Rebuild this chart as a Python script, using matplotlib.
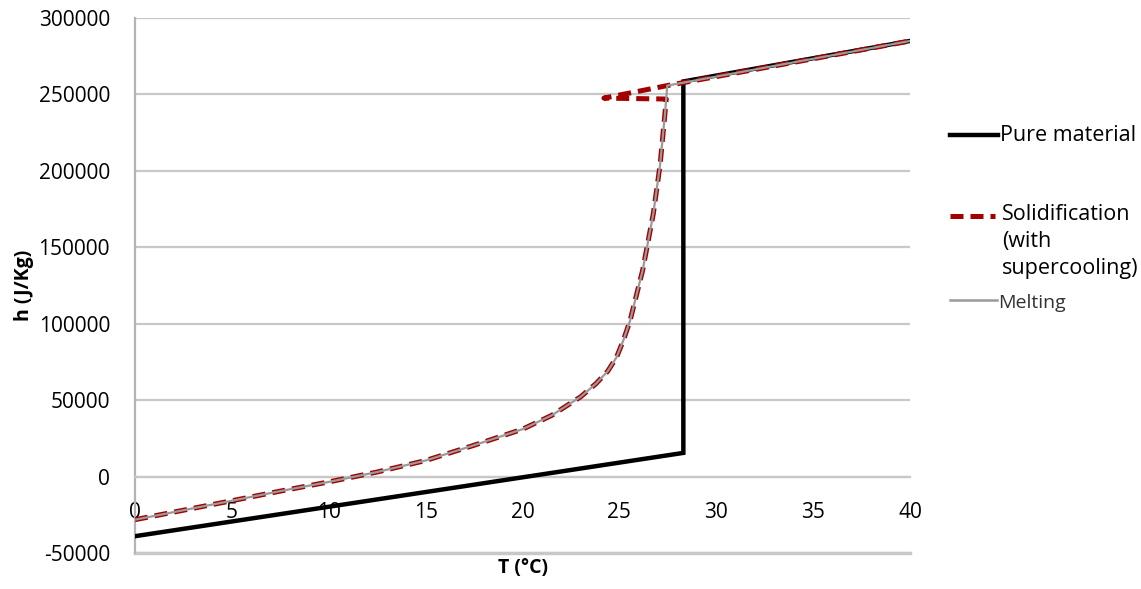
import numpy as np
import matplotlib.pyplot as plt
from matplotlib.lines import Line2D

plt.rcParams['font.family'] = ['Open Sans', 'DejaVu Sans']
plt.rcParams['axes.unicode_minus'] = False

# pure material: linear solid, isothermal jump, linear liquid
pure_T = [0, 28.3, 28.3, 40]
pure_h = [-39000, 15500, 258500, 285000]

# melting curve (mushy zone)
curve_T = [0, 2.5, 5, 7.5, 10, 12.5, 15, 17.5, 20, 21.5, 23, 23.8, 24.4, 24.85,
           25.2, 25.55, 26.2, 26.75, 27.1, 27.35, 27.47]
curve_h = [-28200, -22000, -15800, -9500, -3500, 3000, 10500, 20500, 31000,
           40000, 52200, 60900, 69000, 78000, 89000, 102000, 135000, 172000,
           204000, 237000, 255800]
liq_T = [40]
liq_h = [285000]

# solidification with supercooling
sol_T = curve_T[:-2] + [27.42, 24.2, 27.47] + liq_T
sol_h = curve_h[:-2] + [247000, 247600, 255800] + liq_h

melt_T = curve_T + liq_T
melt_h = curve_h + liq_h

fig = plt.figure(figsize=(11.41, 5.89), dpi=100)
ax = fig.add_axes([0.1183, 0.0611, 0.6793, 0.9083])

ax.set_xlim(0, 40)
ax.set_ylim(-50000, 300000)
ax.set_yticks(np.arange(-50000, 300001, 50000))
ax.set_xticks(np.arange(0, 41, 5))
ax.grid(axis='y', color='#c8c8c8', lw=1.6)
ax.axhline(-50000, color='#c8c8c8', lw=2.5, clip_on=False)
ax.set_axisbelow(True)

for s in ['top', 'right']:
    ax.spines[s].set_visible(False)
ax.spines['left'].set_color('#b4b4b4')
ax.spines['left'].set_linewidth(1.6)
ax.spines['bottom'].set_position(('data', 0))
ax.spines['bottom'].set_color('#c8c8c8')
ax.spines['bottom'].set_linewidth(1.6)
ax.tick_params(length=0, labelsize=15, colors='black')
ax.tick_params(axis='x', pad=18)
ax.tick_params(axis='y', pad=18)

ax.plot(pure_T, pure_h, color='black', lw=3.2, solid_joinstyle='miter', zorder=3)
ax.plot(sol_T, sol_h, color='#a30000', lw=3.6, dashes=(2.6, 1.4), zorder=4)
ax.plot(melt_T, melt_h, color='#9a9a9a', lw=1.6, zorder=5)

ax.set_xlabel('T (°C)', fontsize=14, fontweight='bold')
ax.xaxis.set_label_coords(0.5, -0.01)
ax.set_ylabel('h (J/Kg)', fontsize=14, fontweight='bold')
ax.yaxis.set_label_coords(-0.13, 0.5)

# legend (manual, to keep the original spacing)
W, H = 1141, 589
def fx(p): return p / W
def fy(p): return 1 - p / H
fig.add_artist(Line2D([fx(950), fx(998)], [fy(135), fy(135)], color='black', lw=3.2))
fig.text(fx(1000), fy(135), 'Pure material', fontsize=15.5, va='center')
fig.add_artist(Line2D([fx(950), fx(995)], [fy(216), fy(216)], color='#a30000', lw=3.6,
                      dashes=(2.6, 1.4)))
fig.text(fx(1002), fy(204), 'Solidification\n(with\nsupercooling)', fontsize=15.5,
         va='top', linespacing=1.38)
fig.add_artist(Line2D([fx(950), fx(997)], [fy(300), fy(300)], color='#9a9a9a', lw=1.8))
fig.text(fx(998), fy(303), 'Melting', fontsize=14, va='center', color='#333333')

fig.savefig('out.png', dpi=100)
